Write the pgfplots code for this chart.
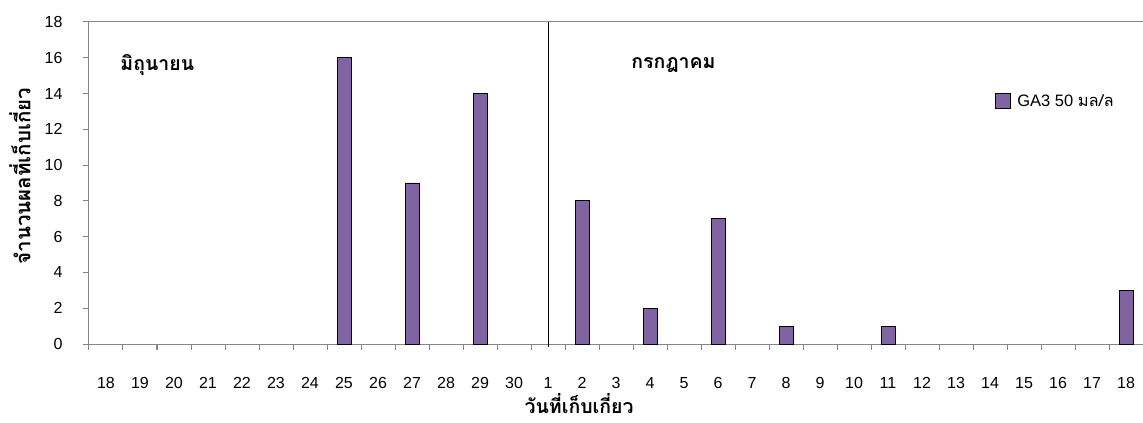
\documentclass[border=0pt]{standalone}
\usepackage{pgfplots}
\pgfplotsset{compat=1.18}
\usetikzlibrary{calc}
\usepackage{fontspec}
\setmainfont{Liberation Sans}
\newfontfamily\thai[Script=Thai]{Loma}
\definecolor{barpurple}{HTML}{8064A2}
\definecolor{axgray}{HTML}{868686}
\begin{document}
\begin{tikzpicture}
\begin{axis}[
  scale only axis, width=1054pt, height=322pt,
  xmin=-0.5, xmax=30.5, ymin=0, ymax=18,
  clip=false,
  ybar, bar width=14pt,
  axis line style={axgray, line width=1pt},
  xtick={0,...,30},
  xticklabels={18,19,20,21,22,23,24,25,26,27,28,29,30,1,2,3,4,5,6,7,8,9,10,11,12,13,14,15,16,17,18},
  minor xtick={-0.5,0.5,...,29.5},
  major x tick style={draw=none},
  ytick={0,2,...,18},
  tick align=outside,
  xtick pos=lower, ytick pos=left,
  major tick length=6pt, minor tick length=6pt,
  tick style={axgray, line width=1pt},
  every tick/.style={axgray, line width=1pt},
  font=\fontsize{16}{19}\selectfont,
  /pgf/number format/assume math mode=true,
  xticklabel style={anchor=center, yshift=-33pt},
  yticklabel style={anchor=east, xshift=-17pt},
  xlabel={\thai\bfseries วันที่เก็บเกี่ยว},
  xlabel style={at={(axis description cs:0.465,-0.186)}, anchor=center, inner sep=0pt, font=\fontsize{19.5}{22}\selectfont},
  ylabel={\thai\bfseries จำนวนผลที่เก็บเกี่ยว},
  ylabel style={at={(axis description cs:-0.0655,0.522)}, anchor=center, font=\fontsize{20.5}{23}\selectfont},
  legend style={draw=none, fill=none, at={(rel axis cs:0.857,0.755)}, anchor=west, font=\fontsize{16.5}{19}\selectfont},
  legend image code/.code={\draw[fill=barpurple,draw=black,line width=0.8pt] (0pt,-7.5pt) rectangle (15pt,7.5pt); \path (19pt,0pt);},
]
\addplot[fill=barpurple, draw=black, line width=0.8pt] coordinates {(7,16) (9,9) (11,14) (14,8) (16,2) (18,7) (20,1) (23,1) (30,3)};
\addlegendentry{GA3 50 {\thai มล/ล}}
\draw[black, line width=0.8pt] (axis cs:13,-0.17) -- (axis cs:13,18);
\node[anchor=west, font=\fontsize{19.5}{22}\selectfont\thai\bfseries] at (axis cs:0.32,15.6) {มิถุนายน};
\node[anchor=west, font=\fontsize{19.5}{22}\selectfont\thai\bfseries] at (axis cs:15.35,15.6) {กรกฎาคม};
\end{axis}
\pgfresetboundingbox
\path ($(current axis.south west)+(-89pt,-78pt)$) rectangle ($(current axis.north east)+(0pt,22pt)$);
\end{tikzpicture}
\end{document}
